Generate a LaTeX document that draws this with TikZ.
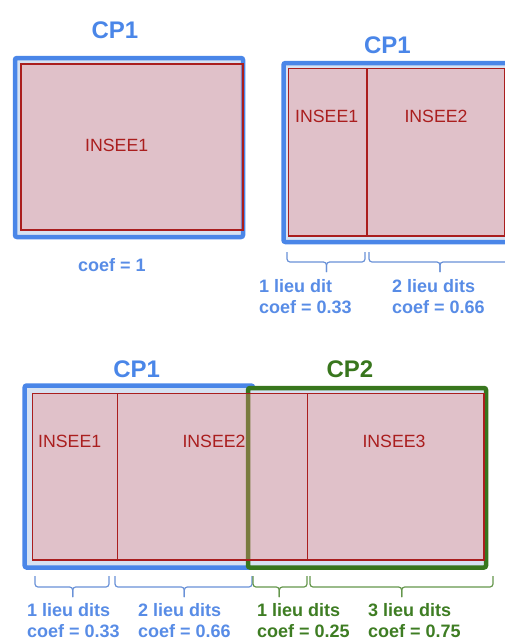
\documentclass[tikz,border=0pt]{standalone}
\usepackage{fontspec}
\setmainfont{Liberation Sans}
\definecolor{cpblue}{RGB}{74,134,232}
\definecolor{cpgreen}{RGB}{56,118,29}
\definecolor{boxfill}{RGB}{214,226,242}
\definecolor{zonefill}{RGB}{243,132,125}
\definecolor{zonered}{RGB}{170,30,30}
\definecolor{lblblue}{RGB}{88,140,230}
\definecolor{lblgreen}{RGB}{62,125,35}
\definecolor{braceblue}{RGB}{105,145,215}
\definecolor{bracegreen}{RGB}{100,150,75}
\begin{document}
\begin{tikzpicture}[x=1pt,y=-1pt,
  cpbox/.style={line width=4.5pt, rounded corners=2pt, fill=boxfill},
  zone/.style={draw=zonered, line width=1.1pt, fill=zonefill, fill opacity=0.35},
  zonelbl/.style={inner sep=0pt, anchor=base, text=zonered, font=\fontsize{17.7}{20}\selectfont},
  cptitle/.style={inner sep=0pt, anchor=base, font=\bfseries\fontsize{24}{28}\selectfont},
  coeflbl/.style={inner sep=0pt, anchor=base west, font=\bfseries\fontsize{18}{21}\selectfont},
  bracestyle/.style={line width=1.2pt, rounded corners=3pt}
]
\useasboundingbox (0,0) rectangle (505,641);
\clip (0,0) rectangle (505,641);

% ---------- top-left panel ----------
\draw[cpbox, draw=cpblue] (15,58) rectangle (243,237);
\draw[zone] (21,64) rectangle (243,230);
\node[zonelbl] (tlI1) at (116.7,151.7) {INSEE1};
\node[cptitle, text=cpblue] (tlCP1) at (115,38.3) {CP1};
\node[coeflbl, anchor=base, text=lblblue] (tlcoef) at (112,271.7) {coef = 1};

% ---------- top-right panel ----------
\draw[cpbox, draw=cpblue] (283.5,63) rectangle (530,242);
\draw[zone] (288.3,68.3) rectangle (367,236);
\draw[zone] (367,68.3) rectangle (504.3,236);
\node[zonelbl] (trI1) at (326.7,122.7) {INSEE1};
\node[zonelbl] (trI2) at (436,122.7) {INSEE2};
\node[cptitle, text=cpblue] (trCP1) at (387.5,53.3) {CP1};

\coordinate (trb1a) at (287,252); \coordinate (trb1b) at (365,252); \coordinate (trb1m) at (326.5,272);
\coordinate (trb2a) at (369,252); \coordinate (trb2b) at (511,252); \coordinate (trb2m) at (440,272);
\foreach \a/\b/\m in {trb1a/trb1b/trb1m, trb2a/trb2b/trb2m}{
  \draw[bracestyle, braceblue] (\a) -- ([yshift=-10pt]\a) -- ([yshift=-10pt]\m |- \a) -- (\m);
  \draw[bracestyle, braceblue] (\b) -- ([yshift=-10pt]\b) -- ([yshift=-10pt]\m |- \b) -- (\m);
}
\node[coeflbl, text=lblblue] (trl1a) at (259,292.7) {1 lieu dit};
\node[coeflbl, text=lblblue] (trl1b) at (259,313.3) {coef = 0.33};
\node[coeflbl, text=lblblue] (trl2a) at (392,292.7) {2 lieu dits};
\node[coeflbl, text=lblblue] (trl2b) at (392,313.3) {coef = 0.66};

% ---------- bottom panel ----------
\draw[cpbox, draw=cpblue] (24.7,385.5) rectangle (253,567.5);
\draw[cpbox, draw=cpgreen] (248,388) rectangle (486,567.5);
\draw[zone] (32.3,393.3) rectangle (117.3,560);
\draw[zone] (117.3,393.3) rectangle (307.3,560);
\draw[zone] (307.3,393.3) rectangle (484,560);
\node[zonelbl] (bI1) at (69.7,447) {INSEE1};
\node[zonelbl] (bI2) at (214,447) {INSEE2};
\node[zonelbl] (bI3) at (394,447) {INSEE3};
\node[cptitle, text=cpblue] (bCP1) at (136.7,377) {CP1};
\node[cptitle, text=cpgreen] (bCP2) at (350,377) {CP2};

\coordinate (bb1a) at (35,576);  \coordinate (bb1b) at (109,576); \coordinate (bb1m) at (72.7,597);
\coordinate (bb2a) at (115,576); \coordinate (bb2b) at (252,576); \coordinate (bb2m) at (184.3,597);
\coordinate (bb3a) at (253,576); \coordinate (bb3b) at (307,576); \coordinate (bb3m) at (279.3,597);
\coordinate (bb4a) at (310,576); \coordinate (bb4b) at (493,576); \coordinate (bb4m) at (401.7,597);
\foreach \a/\b/\m/\c in {bb1a/bb1b/bb1m/braceblue, bb2a/bb2b/bb2m/braceblue, bb3a/bb3b/bb3m/bracegreen, bb4a/bb4b/bb4m/bracegreen}{
  \draw[bracestyle, \c] (\a) -- ([yshift=-11pt]\a) -- ([yshift=-11pt]\m |- \a) -- (\m);
  \draw[bracestyle, \c] (\b) -- ([yshift=-11pt]\b) -- ([yshift=-11pt]\m |- \b) -- (\m);
}
\node[coeflbl, text=lblblue]  (bl1a) at (27,616.5)  {1 lieu dits};
\node[coeflbl, text=lblblue]  (bl1b) at (27,637.5)  {coef = 0.33};
\node[coeflbl, text=lblblue]  (bl2a) at (138,616.5) {2 lieu dits};
\node[coeflbl, text=lblblue]  (bl2b) at (138,637.5) {coef = 0.66};
\node[coeflbl, text=lblgreen] (bl3a) at (257,616.5) {1 lieu dits};
\node[coeflbl, text=lblgreen] (bl3b) at (257,637.5) {coef = 0.25};
\node[coeflbl, text=lblgreen] (bl4a) at (368,616.5) {3 lieu dits};
\node[coeflbl, text=lblgreen] (bl4b) at (368,637.5) {coef = 0.75};
\end{tikzpicture}
\end{document}
